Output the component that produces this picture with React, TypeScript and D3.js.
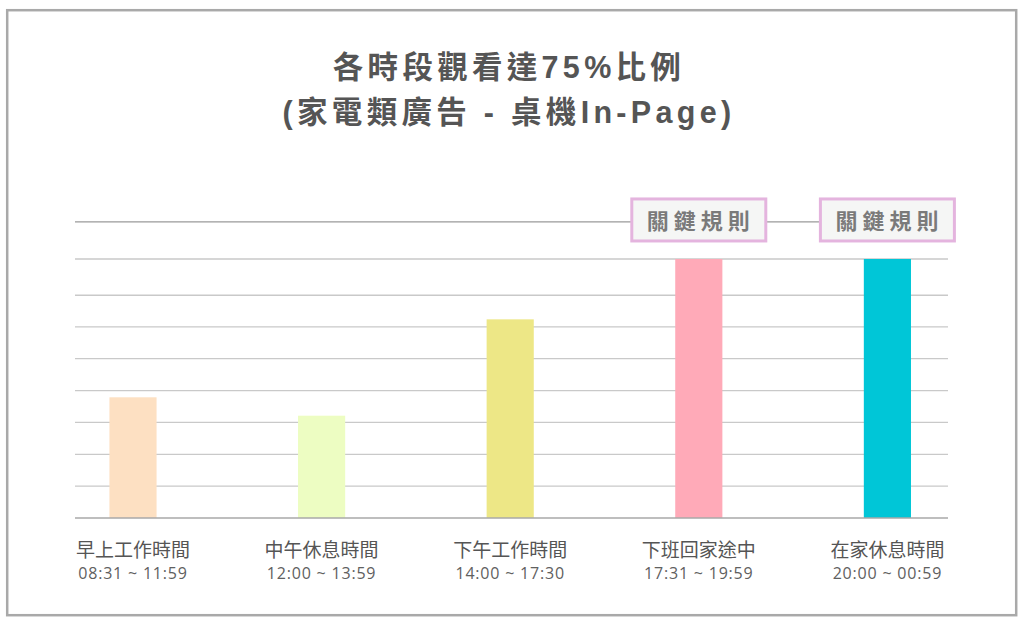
import * as d3 from 'd3';
import * as React from 'react';

// chart data
const categories: string[] = ['早上工作時間', '中午休息時間', '下午工作時間', '下班回家途中', '在家休息時間'];
const timeRanges: string[] = ['08:31 ~ 11:59', '12:00 ~ 13:59', '14:00 ~ 17:30', '17:31 ~ 19:59', '20:00 ~ 00:59'];
const values: number[] = [46.6, 39.5, 76.7, 100, 100];
const barColors: string[] = ['#fde0c2', '#edfdc2', '#ede786', '#ffaab8', '#00c6d7'];
const gridValues: number[] = [12.3, 24.6, 36.9, 49.2, 61.5, 73.8, 86, 100, 114.3];
const highlightIndex: number[] = [3, 4];
const highlightText = '關鍵規則';
const highlightValue = 114.3;
const titleLines: string[] = ['各時段觀看達75%比例', '(家電類廣告 - 桌機In-Page)'];

const W = 1024;
const H = 626;
const plotLeft = 75;
const plotRight = 948;

const cjk = '"Noto Sans CJK TC", "Noto Sans", sans-serif';
const titleFont = '"Liberation Sans", "Noto Sans CJK TC", sans-serif';

export default function App() {
    const x = d3.scaleBand<string>()
        .domain(categories)
        .range([38.7, 981.7])
        .paddingInner(0.75)
        .paddingOuter(0.375);

    const y = d3.scaleLinear()
        .domain([0, 100])
        .range([518, 259]);

    const cx = (c: string) => (x(c) ?? 0) + x.bandwidth() / 2;

    return (
        <svg
            width={W}
            height={H}
            style={{ position: 'absolute', left: 0, top: 0, background: '#fff' }}
        >
            <rect x={7.2} y={10.2} width={1009} height={605} fill="#fff" stroke="#a9a9a9" strokeWidth={2.5} />

            {titleLines.map((t, i) => (
                <text
                    key={t}
                    x={509}
                    y={78 + i * 45}
                    textAnchor="middle"
                    fontFamily={titleFont}
                    fontWeight={700}
                    fontSize={30.5}
                    letterSpacing={4.3}
                    fill="#555"
                >
                    {t}
                </text>
            ))}

            {gridValues.map(v => (
                <line
                    key={v}
                    x1={plotLeft}
                    x2={plotRight}
                    y1={y(v)}
                    y2={y(v)}
                    stroke={v === highlightValue ? '#9a9a9a' : '#c9c9c9'}
                    strokeWidth={1.3}
                />
            ))}

            {categories.map((c, i) => (
                <rect
                    key={c}
                    x={x(c)}
                    y={y(values[i])}
                    width={x.bandwidth()}
                    height={y(0) - y(values[i])}
                    fill={barColors[i]}
                />
            ))}

            <line x1={plotLeft} x2={plotRight} y1={y(0)} y2={y(0)} stroke="#a8a8a8" strokeWidth={1.5} />

            {highlightIndex.map(i => (
                <g key={i} transform={`translate(${cx(categories[i])},${y(highlightValue)})`}>
                    <rect x={-67} y={-23} width={134} height={42} fill="#f5f6f5" stroke="#e4b4de" strokeWidth={3} />
                    <text
                        x={2}
                        y={7.5}
                        textAnchor="middle"
                        fontFamily={cjk}
                        fontWeight={700}
                        fontSize={22}
                        letterSpacing={5}
                        fill="#7a7a7a"
                    >
                        {highlightText}
                    </text>
                </g>
            ))}

            {categories.map((c, i) => (
                <g key={c} transform={`translate(${cx(c)},0)`}>
                    <text y={557} textAnchor="middle" fontFamily={cjk} fontSize={19} fill="#555">
                        {c}
                    </text>
                    <text
                        y={579}
                        textAnchor="middle"
                        fontFamily='"Open Sans", sans-serif'
                        fontSize={16}
                        letterSpacing={0.8}
                        fill="#606060"
                    >
                        {timeRanges[i]}
                    </text>
                </g>
            ))}
        </svg>
    );
}
